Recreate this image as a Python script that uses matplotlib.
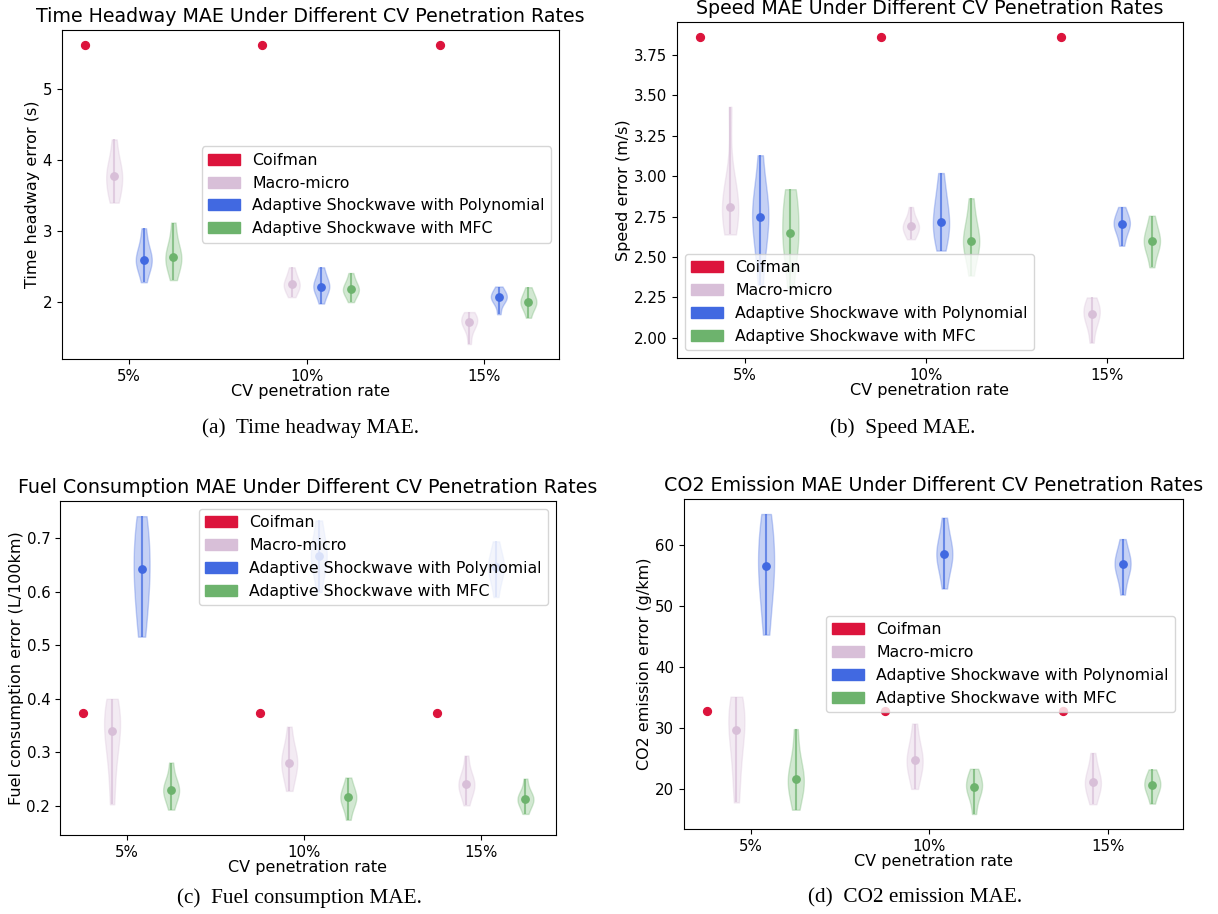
import matplotlib
matplotlib.use('Agg')
import matplotlib.pyplot as plt
from matplotlib.patches import Patch
import numpy as np

rates = ['5%', '10%', '15%']
methods = ['Coifman', 'Macro-micro', 'Adaptive Shockwave with Polynomial', 'Adaptive Shockwave with MFC']
colors = ['crimson', 'thistle', 'royalblue', '#6db36d']

# Coifman gives a single value per chart
headway_coifman = [5.62, 5.62, 5.62]
speed_coifman = [3.86, 3.86, 3.86]
fuel_coifman = [0.374, 0.374, 0.374]
co2_coifman = [32.7, 32.7, 32.7]

# per-run errors, one list per penetration rate
headway_macro = [[3.40, 3.50, 3.60, 3.70, 3.78, 3.84, 3.90, 4.05, 4.29],
                 [2.07, 2.14, 2.19, 2.23, 2.25, 2.28, 2.33, 2.40, 2.49],
                 [1.41, 1.58, 1.66, 1.70, 1.72, 1.75, 1.79, 1.82, 1.86]]
headway_poly = [[2.28, 2.45, 2.52, 2.57, 2.60, 2.65, 2.72, 2.85, 3.04],
                [1.98, 2.10, 2.16, 2.20, 2.22, 2.26, 2.31, 2.38, 2.49],
                [1.83, 1.97, 2.02, 2.05, 2.07, 2.09, 2.12, 2.16, 2.22]]
headway_mfc = [[2.31, 2.45, 2.54, 2.60, 2.63, 2.68, 2.76, 2.90, 3.12],
               [2.00, 2.09, 2.13, 2.16, 2.18, 2.21, 2.25, 2.31, 2.41],
               [1.78, 1.89, 1.94, 1.98, 2.00, 2.03, 2.07, 2.13, 2.21]]

speed_macro = [[2.64, 2.68, 2.74, 2.79, 2.81, 2.85, 2.90, 2.98, 3.43],
               [2.61, 2.64, 2.66, 2.68, 2.69, 2.70, 2.72, 2.75, 2.81],
               [1.97, 2.06, 2.10, 2.13, 2.15, 2.17, 2.19, 2.22, 2.25]]
speed_poly = [[2.33, 2.52, 2.62, 2.70, 2.75, 2.80, 2.85, 2.93, 3.13],
              [2.54, 2.60, 2.66, 2.70, 2.72, 2.78, 2.84, 2.90, 3.02],
              [2.57, 2.63, 2.67, 2.69, 2.705, 2.72, 2.74, 2.77, 2.81]]
speed_mfc = [[2.31, 2.45, 2.55, 2.61, 2.65, 2.72, 2.80, 2.88, 2.92],
             [2.385, 2.50, 2.55, 2.58, 2.60, 2.63, 2.68, 2.75, 2.864],
             [2.437, 2.52, 2.56, 2.58, 2.60, 2.62, 2.65, 2.69, 2.756]]

fuel_macro = [[0.203, 0.26, 0.30, 0.325, 0.339, 0.355, 0.37, 0.385, 0.400],
              [0.228, 0.25, 0.265, 0.275, 0.281, 0.29, 0.30, 0.315, 0.348],
              [0.201, 0.22, 0.23, 0.236, 0.240, 0.245, 0.253, 0.265, 0.294]]
fuel_poly = [[0.516, 0.56, 0.59, 0.62, 0.643, 0.66, 0.69, 0.72, 0.741],
             [0.599, 0.63, 0.65, 0.66, 0.667, 0.675, 0.69, 0.71, 0.733],
             [0.590, 0.615, 0.63, 0.64, 0.646, 0.652, 0.66, 0.675, 0.694]]
fuel_mfc = [[0.193, 0.21, 0.22, 0.226, 0.230, 0.235, 0.242, 0.255, 0.281],
            [0.174, 0.195, 0.205, 0.211, 0.216, 0.22, 0.227, 0.237, 0.253],
            [0.185, 0.198, 0.205, 0.21, 0.213, 0.216, 0.221, 0.23, 0.251]]

co2_macro = [[17.8, 22.0, 25.5, 28.0, 29.7, 31.0, 32.5, 34.0, 35.1],
             [20.0, 22.0, 23.2, 24.1, 24.7, 25.4, 26.5, 28.0, 30.7],
             [17.5, 19.0, 20.0, 20.6, 21.1, 21.7, 22.5, 23.8, 25.9]]
co2_poly = [[45.25, 49.5, 52.5, 54.8, 56.5, 58.2, 60.5, 63.0, 65.0],
            [52.8, 55.5, 56.9, 57.9, 58.5, 59.1, 60.2, 61.8, 64.4],
            [51.8, 54.2, 55.5, 56.3, 56.8, 57.3, 58.0, 59.1, 60.9]]
co2_mfc = [[16.6, 18.8, 20.0, 21.0, 21.6, 22.4, 23.6, 25.8, 29.8],
           [15.9, 18.2, 19.3, 19.9, 20.4, 20.9, 21.5, 22.3, 23.3],
           [17.6, 19.0, 19.7, 20.3, 20.7, 21.1, 21.6, 22.3, 23.2]]

W, H = 1218, 914


def box(left, top, right, bottom):
    return [left / W, 1 - bottom / H, (right - left) / W, (bottom - top) / H]


def draw_panel(ax, coifman, macro, poly, mfc, title, ylabel, legend_loc):
    x = np.arange(1, len(rates) + 1)
    step = 1 / 6
    ax.scatter(x - 1.5 * step, coifman, color=colors[0], s=32, zorder=3)
    for i, data in enumerate([macro, poly, mfc]):
        c = colors[i + 1]
        pos = x + (i - 0.5) * step
        parts = ax.violinplot(data, positions=pos, widths=0.09, showextrema=True)
        for b in parts['bodies']:
            b.set_facecolor(c)
            b.set_edgecolor(c)
            b.set_alpha(0.3)
        parts['cbars'].set_color(c)
        parts['cbars'].set_alpha(0.7)
        parts['cbars'].set_linewidth(1.5)
        parts['cmins'].set_visible(False)
        parts['cmaxes'].set_visible(False)
        ax.scatter(pos, [np.median(d) for d in data], color=c, s=28, zorder=3)
    ax.set_xticks(x)
    ax.set_xticklabels(rates)
    ax.tick_params(labelsize=10.8)
    ax.set_title(title, fontsize=13.7)
    ax.set_xlabel('CV penetration rate', fontsize=11.5, labelpad=0.5)
    ax.set_ylabel(ylabel, fontsize=11.5, labelpad=2)
    handles = [Patch(color=c) for c in colors]
    ax.legend(handles, methods, loc=legend_loc, fontsize=11.3)


fig = plt.figure(figsize=(W / 100, H / 100), dpi=100)

ax = fig.add_axes(box(62, 30, 559, 359))
draw_panel(ax, headway_coifman, headway_macro, headway_poly, headway_mfc,
           'Time Headway MAE Under Different CV Penetration Rates', 'Time headway error (s)', 'center right')

ax = fig.add_axes(box(677, 22, 1183, 358))
draw_panel(ax, speed_coifman, speed_macro, speed_poly, speed_mfc,
           'Speed MAE Under Different CV Penetration Rates', 'Speed error (m/s)', 'lower left')

ax = fig.add_axes(box(60, 501, 556, 835))
draw_panel(ax, fuel_coifman, fuel_macro, fuel_poly, fuel_mfc,
           'Fuel Consumption MAE Under Different CV Penetration Rates', 'Fuel consumption error (L/100km)', 'upper right')

ax = fig.add_axes(box(684, 499, 1183, 829))
draw_panel(ax, co2_coifman, co2_macro, co2_poly, co2_mfc,
           'CO2 Emission MAE Under Different CV Penetration Rates', 'CO2 emission error (g/km)', 'center right')

cap = dict(ha='center', va='center', fontsize=15.3, family='Liberation Serif')
fig.text(310 / W, 1 - 428 / H, '(a)  Time headway MAE.', **cap)
fig.text(903 / W, 1 - 428 / H, '(b)  Speed MAE.', **cap)
fig.text(299 / W, 1 - 898 / H, '(c)  Fuel consumption MAE.', **cap)
fig.text(915 / W, 1 - 898 / H, '(d)  CO2 emission MAE.', **cap)

fig.savefig('out.png', dpi=100)
